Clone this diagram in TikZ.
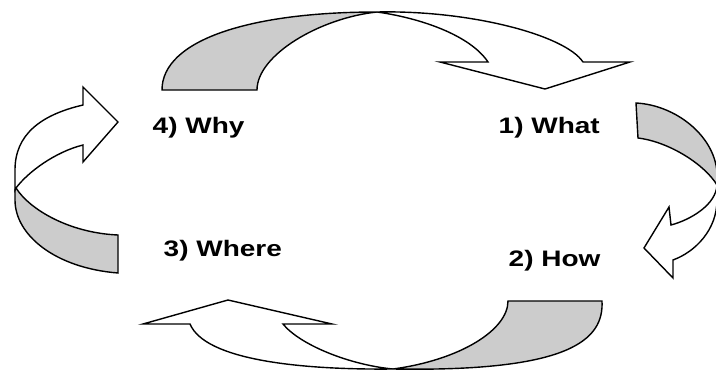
\documentclass[tikz,border=0pt]{standalone}
\usepackage{fontspec}
\setmainfont{Liberation Sans}
\definecolor{band}{RGB}{204,204,204}
\begin{document}
\begin{tikzpicture}[x=1pt,y=-1pt, line width=1.4pt, line join=miter,
  ribbon/.style={draw=black, fill=band},
  front/.style={draw=black, fill=white},
  lbl/.style={anchor=base west, inner sep=0pt, font=\bfseries\fontsize{22.4}{26}\selectfont}]
\useasboundingbox (0,0) rectangle (716,372);
% top arrow (4 -> 1)
\path[ribbon] (162,90) .. controls (162,40) and (250,12) .. (377,12)
  .. controls (320,18) and (257,55) .. (257,90) -- cycle;
\path[front] (377,12) .. controls (470,10) and (565,35) .. (583,62) -- (630,62) -- (545,89)
  -- (440,62) -- (488,62) .. controls (470,35) and (420,18) .. (377,12) -- cycle;
% right arrow (1 -> 2)
\path[ribbon] (636,103) .. controls (675,105) and (714,135) .. (717,172) -- (717,185)
  .. controls (705,165) and (670,142) .. (638,138) -- cycle;
\path[front] (717,185) .. controls (716,205) and (690,220) .. (671,225) -- (669,207) -- (644,248)
  -- (673,278) -- (673,260) .. controls (695,252) and (717,230) .. (717,200) -- cycle;
% bottom arrow (2 -> 3)
\path[ribbon] (393,369) .. controls (570,372) and (604,340) .. (602,301) -- (508,301)
  .. controls (508,330) and (460,360) .. (393,369) -- cycle;
\path[front] (393,369) .. controls (300,370) and (205,360) .. (190,324) -- (143,324) -- (228,300)
  -- (332,324) -- (283,324) .. controls (300,345) and (350,365) .. (393,369) -- cycle;
% left arrow (3 -> 4)
\path[ribbon] (16,188) .. controls (30,210) and (70,233) .. (118,235) -- (118,273)
  .. controls (55,268) and (15,235) .. (15,200) -- (15,190) -- cycle;
\path[front] (83,105) -- (83,87) -- (118,122) -- (83,162) -- (83,145)
  .. controls (55,152) and (28,172) .. (16,188) -- (15,190) -- (15,170)
  .. controls (15,135) and (40,115) .. (83,105) -- cycle;
% labels
\node[lbl] (why)   at (152,133)   {\scalebox{1.25}[1]{4) Why}};
\node[lbl] (what)  at (498,133.3) {\scalebox{1.25}[1]{1) What}};
\node[lbl] (where) at (163,256.7) {\scalebox{1.25}[1]{3) Where}};
\node[lbl] (how)   at (508,266.7) {\scalebox{1.25}[1]{2) How}};
\end{tikzpicture}
\end{document}
